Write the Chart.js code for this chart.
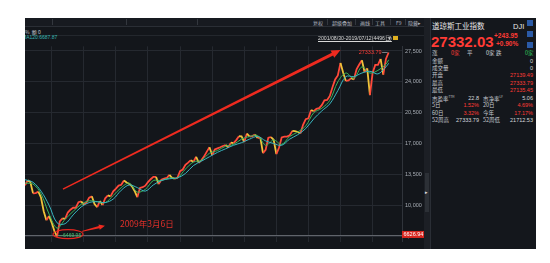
<!DOCTYPE html>
<html>
<head>
<meta charset="utf-8">
<script src="https://cdn.jsdelivr.net/npm/chart.js@4.4.0/dist/chart.umd.min.js"></script>
<style>
body { margin: 0; background: #fff; width: 550px; height: 263px; overflow: hidden;
       font-family: "Liberation Sans", "Noto Sans CJK SC", sans-serif; }
.a { position: absolute; white-space: nowrap; line-height: 1; }
#frame { position: absolute; left: 25px; top: 18px; width: 510px; height: 231px; background: #13161b; }
#toolbar { position: absolute; left: 25px; top: 18px; width: 403px; height: 8px; background: #171a20; border-bottom: 1px solid #2a2e35; }
#row2 { position: absolute; left: 25px; top: 27px; width: 399px; height: 8px; border-bottom: 1px solid #23272d; }
.tb { font-size: 5px; color: #b4b8c0; top: 20px; font-family: "Noto Sans CJK SC", sans-serif; }
.sep { position: absolute; top: 19px; width: 1px; height: 6px; background: #33373e; }
#wrap { position: absolute; left: 25px; top: 40px; width: 400px; height: 208px; }
#strip { position: absolute; left: 424px; top: 18px; width: 6px; height: 231px; background: #1c1f25; }
#thumb { position: absolute; left: 425px; top: 173px; width: 4px; height: 39px; background: #2c3036; }
#panel { position: absolute; left: 430px; top: 18px; width: 105px; height: 231px; background: #14171c; border-left: 1px solid #2a2e35; }
.cn { font-family: "Noto Sans CJK SC", sans-serif; }
.lb { font-size: 5.5px; color: #c4c8ce; left: 432px; font-family: "Noto Sans CJK SC", sans-serif; }
.v { font-size: 5.5px; color: #d6d8dc; text-align: right; }
.red { color: #ff3b35; }
.grn { color: #2fc25b; }
.ico { position: absolute; left: 527px; width: 6px; height: 6px; background: #2b5aa6; }
</style>
</head>
<body>
<div id="frame"></div>
<div id="toolbar"></div>
<div id="row2"></div>
<div class="sep" style="left:52px"></div>
<div class="sep" style="left:126px"></div>
<div class="sep" style="left:197px"></div>
<span class="a tb" style="left:313px">复权</span>
<div class="sep" style="left:327px"></div>
<span class="a tb" style="left:332px">超级叠加</span>
<div class="sep" style="left:355px"></div>
<span class="a tb" style="left:360px">画线</span>
<div class="sep" style="left:372px"></div>
<span class="a tb" style="left:375px">工具</span>
<div class="sep" style="left:390px"></div>
<span class="a tb" style="left:396px">F9</span>
<div class="sep" style="left:405px"></div>
<span class="a tb" style="left:408px">隐藏▸</span>

<span class="a cn" style="left:25px;top:29px;font-size:5px;color:#c0c4ca">%&nbsp;&nbsp;额 0</span>
<div style="position:absolute;left:25px;top:35px;width:60px;height:6px;overflow:hidden">
  <span class="a" style="left:-3px;top:0;font-size:5px;color:#39b7b3">MA120:6687.87</span>
</div>

<div id="wrap"><canvas id="chart" width="400" height="208"></canvas></div>

<span class="a" style="left:318px;top:36px;font-size:5.2px;color:#d8d8d8;text-decoration:underline;z-index:3">2001/08/30-2019/07/12(4496日)</span>
<span class="a" style="left:387px;top:36px;font-size:5px;color:#c8c8c8;z-index:3">▼</span>
<div style="position:absolute;left:393px;top:36px;width:5px;height:4px;background:#e0b020;z-index:3"></div>

<div id="strip"></div>
<div id="thumb"></div>
<span class="a" style="left:425px;top:190px;font-size:5px;color:#e0e0e0">▸</span>

<div id="panel"></div>
<div class="ico" style="top:20px"></div>
<div class="ico" style="top:31px"></div>
<div class="ico" style="top:42px"></div>
<span class="a cn" style="left:432px;top:22px;font-size:7.5px;color:#e8e8e8">道琼斯工业指数</span>
<span class="a" style="left:513px;top:23px;font-size:7.5px;color:#e8e8e8">DJI</span>
<span class="a" style="left:431px;top:34px;font-size:15px;font-weight:bold;color:#ff3b35">27332.03</span>
<span class="a" style="left:494px;top:33px;font-size:6.5px;font-weight:bold;color:#ff3b35">+243.95</span>
<span class="a" style="left:496px;top:41px;font-size:6.5px;font-weight:bold;color:#ff3b35">+0.90%</span>

<span class="a lb" style="top:51px">涨</span>
<span class="a v red cn" style="left:451px;top:51px">0家</span>
<span class="a lb" style="left:467px;top:51px">平</span>
<span class="a v cn" style="left:486px;top:51px">0家</span>
<span class="a lb" style="left:496px;top:51px">跌</span>
<span class="a v grn cn" style="left:525px;top:51px">0家</span>

<span class="a lb" style="top:59px">金额</span>
<span class="a v" style="right:17px;top:59px">0</span>
<span class="a lb" style="top:66px">成交量</span>
<span class="a v" style="right:17px;top:66px">0</span>
<span class="a lb" style="top:73px">开盘</span>
<span class="a v red" style="right:17px;top:73px">27139.49</span>
<span class="a lb" style="top:81px">最高</span>
<span class="a v red" style="right:17px;top:81px">27333.79</span>
<span class="a lb" style="top:88px">最低</span>
<span class="a v red" style="right:17px;top:88px">27135.45</span>

<span class="a lb" style="top:96px">市盈率<sup style="font-size:3px">TTM</sup></span>
<span class="a v" style="right:71px;top:96px">22.8</span>
<span class="a lb" style="left:483px;top:96px">市净率<sup style="font-size:3px">LF</sup></span>
<span class="a v" style="right:17px;top:96px">5.06</span>
<span class="a lb" style="top:103px">5日</span>
<span class="a v red" style="right:71px;top:103px">1.52%</span>
<span class="a lb" style="left:483px;top:103px">20日</span>
<span class="a v red" style="right:17px;top:103px">4.69%</span>
<span class="a lb" style="top:111px">60日</span>
<span class="a v red" style="right:71px;top:111px">3.32%</span>
<span class="a lb" style="left:483px;top:111px">今年</span>
<span class="a v red" style="right:17px;top:111px">17.17%</span>
<span class="a lb" style="top:118px">52周高</span>
<span class="a v" style="right:71px;top:118px">27333.79</span>
<span class="a lb" style="left:483px;top:118px">52周低</span>
<span class="a v" style="right:17px;top:118px">21712.53</span>

<script>
// month categories, 2008-03 .. 2019-12 (data runs to 2019-07)
const months = [];
for (let y = 2008; y <= 2019; y++) {
    for (let m = 1; m <= 12; m++) {
        if (y === 2008 && m < 3) continue;
        months.push(y + "-" + String(m).padStart(2, "0"));
    }
}

// Dow Jones, monthly
const closes = [
    12263, 12820, 12638, 11350, 11378, 11544, 10851, 9325, 8300, 8776,
    8001, 7063, 6470, 8168, 8500, 8447, 9172, 9496, 9712, 9713, 10345, 10428,
    10067, 10325, 10857, 11009, 10137, 9774, 10466, 10015, 10788, 11118, 11006, 11578,
    11892, 12226, 12320, 12811, 12570, 12414, 12143, 11614, 10913, 11955, 12046, 12218,
    12633, 12952, 13212, 13214, 12393, 12880, 13009, 13091, 13437, 13096, 13026, 13104,
    13861, 14054, 14579, 14840, 15116, 14910, 15500, 14810, 15130, 15546, 16086, 16577,
    15699, 16322, 16458, 16581, 16717, 16827, 16563, 17098, 17043, 17391, 17828, 17823,
    17165, 18133, 17776, 17841, 18011, 17620, 17690, 15900, 16285, 17664, 17720, 17425,
    15800, 16517, 17685, 17774, 17787, 17930, 18432, 18401, 18308, 18142, 19124, 19763,
    19864, 20812, 20663, 20941, 21009, 21350, 21891, 21948, 22405, 23377, 24272, 24719,
    26149, 25029, 24103, 24163, 24416, 24271, 25415, 25965, 26458, 25116, 25538, 22500,
    24999, 25916, 25929, 26593, 24815, 26600, 27332
];

// slower average lines, quarterly readings
const maMonths = [
    "2008-03", "2008-06", "2008-09", "2008-12", "2009-03", "2009-06", "2009-09", "2009-12",
    "2010-03", "2010-06", "2010-09", "2010-12", "2011-03", "2011-06", "2011-09", "2011-12",
    "2012-03", "2012-06", "2012-09", "2012-12", "2013-03", "2013-06", "2013-09", "2013-12",
    "2014-03", "2014-06", "2014-09", "2014-12", "2015-03", "2015-06", "2015-09", "2015-12",
    "2016-03", "2016-06", "2016-09", "2016-12", "2017-03", "2017-06", "2017-09", "2017-12",
    "2018-03", "2018-06", "2018-09", "2018-12", "2019-03", "2019-06", "2019-07"
];
const maGreen = [
    12500, 12400, 11300, 9000, 7400, 8400, 9300, 10100,
    10500, 10400, 10300, 11100, 12000, 12500, 11500, 11800,
    12800, 12800, 13100, 13100, 14100, 14900, 15100, 15900,
    16200, 16700, 16900, 17500, 17800, 17900, 16800, 17400,
    16900, 17800, 18300, 19000, 20500, 21000, 21900, 24000,
    25000, 24400, 25700, 25000, 25300, 26000, 26500
];
const maTeal = [
    12900, 12600, 11600, 10000, 8000, 7900, 8900, 9800,
    10300, 10400, 10300, 10700, 11700, 12300, 12000, 11600,
    12300, 12800, 13000, 13100, 13600, 14500, 15000, 15500,
    16000, 16400, 16800, 17100, 17500, 17800, 17300, 17000,
    16800, 17500, 18000, 18700, 19800, 20700, 21500, 23000,
    24600, 24600, 25000, 25200, 24900, 25700, 26100
];

const tickLabels = [6500, 10000, 13500, 17000, 20500, 24000, 27500];
const periodHigh = 27333.79;
const periodLow = 6469.95;
const lastRef = 6626.94;

// annotation anchors in data units (month index, price)
const bigArrow = { from: [14.2, 11830], to: [118, 27600] };
const smallArrow = { from: [21.3, 7030], to: [29.9, 7670] };
const lowCircle = [16.1, 6710];
const noteAnchor = [35.5, 7570];

function drawArrow(ctx, x0, y0, x1, y1, w0, w1, head) {
    const ang = Math.atan2(y1 - y0, x1 - x0);
    const len = Math.hypot(x1 - x0, y1 - y0);
    ctx.save();
    ctx.translate(x0, y0);
    ctx.rotate(ang);
    ctx.beginPath();
    ctx.moveTo(0, -w0 / 2);
    ctx.lineTo(len - head, -w1 / 2);
    ctx.lineTo(len - head, -head * 0.45);
    ctx.lineTo(len, 0);
    ctx.lineTo(len - head, head * 0.45);
    ctx.lineTo(len - head, w1 / 2);
    ctx.lineTo(0, w0 / 2);
    ctx.closePath();
    ctx.fill();
    ctx.restore();
}

const overlay = {
    id: "overlay",
    beforeDatasetsDraw(chart) {
        const { ctx, chartArea, scales: { y } } = chart;
        const yy = Math.round(y.getPixelForValue(lastRef)) + 0.5;
        ctx.save();
        ctx.strokeStyle = "#60646b";
        ctx.lineWidth = 1;
        ctx.beginPath();
        ctx.moveTo(chartArea.left, yy);
        ctx.lineTo(chartArea.right, yy);
        ctx.stroke();
        ctx.restore();
    },
    afterDatasetsDraw(chart) {
        const { ctx, chartArea, scales: { x, y } } = chart;
        const px = p => [x.getPixelForValue(p[0]), y.getPixelForValue(p[1])];
        ctx.save();

        // red arrows
        ctx.fillStyle = "#ee2a1f";
        let a = px(bigArrow.from), b = px(bigArrow.to);
        drawArrow(ctx, a[0], a[1], b[0], b[1], 1.4, 3, 9);
        a = px(smallArrow.from); b = px(smallArrow.to);
        drawArrow(ctx, a[0], a[1], b[0], b[1], 1, 2.4, 6);

        // circle round the low
        const c = px(lowCircle);
        ctx.strokeStyle = "#e8261e";
        ctx.lineWidth = 1.2;
        ctx.beginPath();
        ctx.ellipse(c[0], c[1], 15, 4.5, 0, 0, Math.PI * 2);
        ctx.stroke();

        // low marker text
        const lowIdx = closes.indexOf(Math.min(...closes));
        const lx = x.getPixelForValue(lowIdx), ly = y.getPixelForValue(periodLow);
        ctx.font = "5px 'Liberation Sans'";
        ctx.fillStyle = "#3fc06a";
        ctx.textBaseline = "middle";
        ctx.fillText("—" + periodLow.toFixed(2), lx + 1, ly - 1);

        // date note
        const n = px(noteAnchor);
        ctx.font = "8.5px 'Noto Sans CJK SC'";
        ctx.fillStyle = "#e0302a";
        ctx.textBaseline = "alphabetic";
        ctx.fillText("2009年3月6日", n[0], n[1]);

        // period high label
        const hiIdx = closes.length - 1;
        const hx = x.getPixelForValue(hiIdx), hy = y.getPixelForValue(periodHigh);
        ctx.font = "5.5px 'Liberation Sans'";
        ctx.fillStyle = "#ff3b35";
        ctx.textAlign = "right";
        ctx.textBaseline = "middle";
        ctx.fillText(periodHigh.toFixed(2), hx - 7, hy);
        ctx.strokeStyle = "#9a9ea5";
        ctx.lineWidth = 0.8;
        ctx.beginPath();
        ctx.moveTo(hx - 6.5, hy);
        ctx.lineTo(hx - 1, hy);
        ctx.stroke();

        // red price box on the axis
        const ry = y.getPixelForValue(lastRef);
        ctx.fillStyle = "#d8261f";
        ctx.fillRect(chartArea.right, ry - 4, 23, 7);
        ctx.fillStyle = "#ffffff";
        ctx.textAlign = "left";
        ctx.fillText(lastRef.toFixed(2), chartArea.right + 1.5, ry - 0.5);
        ctx.restore();
    }
};

const up = "#ff4a3a", down = "#f0c23a";

new Chart(document.getElementById("chart"), {
    type: "line",
    data: {
        labels: months,
        datasets: [
            {
                label: "MA120",
                data: maMonths.map((m, i) => ({ x: m, y: maTeal[i] })),
                borderColor: "#38b6c0",
                borderWidth: 1,
                pointRadius: 0,
                tension: 0.35
            },
            {
                label: "MA60",
                data: maMonths.map((m, i) => ({ x: m, y: maGreen[i] })),
                borderColor: "#3cb55a",
                borderWidth: 1,
                pointRadius: 0,
                tension: 0.35
            },
            {
                label: "DJI",
                data: closes,
                borderColor: up,
                borderWidth: 1.8,
                pointRadius: 0,
                segment: {
                    borderColor: ctx => ctx.p1.parsed.y >= ctx.p0.parsed.y ? up : down
                }
            }
        ]
    },
    options: {
        responsive: false,
        animation: false,
        devicePixelRatio: 1,
        layout: { padding: 0 },
        plugins: { legend: { display: false }, tooltip: { enabled: false } },
        scales: {
            x: {
                offset: false,
                grid: { color: "#252930", drawTicks: false },
                border: { display: false },
                ticks: { display: false },
                afterBuildTicks: axis => {
                    axis.ticks = months.map((m, i) => ({ value: i, m }))
                        .filter(t => t.m.endsWith("-01"))
                        .map(t => ({ value: t.value }));
                },
                afterFit: axis => { axis.height = 0; }
            },
            y: {
                position: "right",
                min: 5860,
                max: 28033,
                grid: { color: "#252930", drawTicks: false },
                border: { display: true, color: "#30343b" },
                ticks: {
                    color: "#a8adb5",
                    padding: 3,
                    font: { size: 5.5, family: "Liberation Sans" }
                },
                afterBuildTicks: axis => {
                    axis.ticks = tickLabels.map(v => ({ value: v }));
                },
                afterFit: axis => { axis.width = 23; }
            }
        }
    },
    plugins: [overlay]
});
</script>
</body>
</html>
